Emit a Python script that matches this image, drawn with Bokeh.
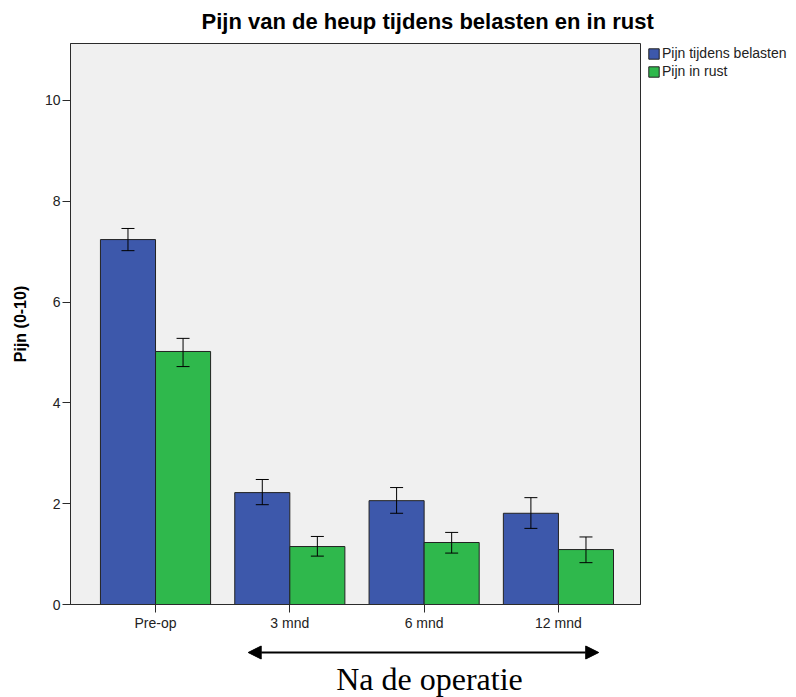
from bokeh.plotting import figure
from bokeh.layouts import column
from bokeh.models import (Range1d, FixedTicker, Whisker, ColumnDataSource, Legend,
                          LegendItem, Arrow, NormalHead, Label, TeeHead)
from bokeh.embed import file_html
from bokeh.resources import INLINE

# ---- data ----
categories = ["Pre-op", "3 mnd", "6 mnd", "12 mnd"]
belasten = [7.24, 2.22, 2.06, 1.81]
belasten_lo = [7.02, 1.98, 1.81, 1.51]
belasten_hi = [7.46, 2.48, 2.32, 2.12]
rust = [5.02, 1.15, 1.23, 1.09]
rust_lo = [4.72, 0.96, 1.02, 0.83]
rust_hi = [5.28, 1.35, 1.43, 1.34]
y_ticks = [0, 2, 4, 6, 8, 10]
series_labels = ["Pijn tijdens belasten", "Pijn in rust"]
title_text = "Pijn van de heup tijdens belasten en in rust"
y_label = "Pijn (0-10)"
note_text = "Na de operatie"

FONT = "Liberation Sans"
BLUE = "#3d58ab"
GREEN = "#2fb84c"

positions = list(range(len(categories)))
bar_w = 0.41
x_blue = [i - bar_w / 2 for i in positions]
x_green = [i + bar_w / 2 for i in positions]

src_b = ColumnDataSource(dict(x=x_blue, top=belasten, lo=belasten_lo, hi=belasten_hi))
src_g = ColumnDataSource(dict(x=x_green, top=rust, lo=rust_lo, hi=rust_hi))

LEFT, RIGHT = 70, 154
xr = Range1d(-0.633, 3.611)

p = figure(frame_width=570, frame_height=561, output_backend="svg", toolbar_location=None,
           x_range=xr, y_range=Range1d(0, 11.13),
           min_border_left=LEFT, min_border_right=RIGHT, min_border_top=43,
           min_border_bottom=30)
p.background_fill_color = "#f0f0f0"
p.border_fill_color = "white"
p.outline_line_color = "#2b2b2b"
p.outline_line_width = 1
p.grid.visible = False

r1 = p.vbar(x="x", top="top", width=bar_w, bottom=0, source=src_b,
            fill_color=BLUE, line_color="#222222", line_width=1)
r2 = p.vbar(x="x", top="top", width=bar_w, bottom=0, source=src_g,
            fill_color=GREEN, line_color="#222222", line_width=1)

for src in (src_b, src_g):
    w = Whisker(base="x", upper="hi", lower="lo", source=src,
                line_color="black", line_width=1, level="overlay",
                upper_head=TeeHead(size=13, line_color="black", line_width=1),
                lower_head=TeeHead(size=13, line_color="black", line_width=1))
    p.add_layout(w)

# axes
for ax in (p.xaxis, p.yaxis):
    ax.axis_line_color = "#2b2b2b"
    ax.major_tick_line_color = "#2b2b2b"
    ax.major_tick_out = 8
    ax.major_tick_in = 0
    ax.minor_tick_line_color = None
    ax.major_label_text_font = FONT
    ax.major_label_text_font_size = "14px"
    ax.major_label_text_color = "#222222"
    ax.major_label_standoff = 2

p.xaxis.ticker = FixedTicker(ticks=positions)
p.xaxis.major_label_overrides = {i: c for i, c in zip(positions, categories)}
p.yaxis.ticker = FixedTicker(ticks=y_ticks)
p.yaxis.axis_label = y_label
p.yaxis.axis_label_text_font = FONT
p.yaxis.axis_label_text_font_size = "16px"
p.yaxis.axis_label_text_font_style = "bold"
p.yaxis.axis_label_text_color = "black"
p.yaxis.axis_label_standoff = 13

# title
p.title.text = title_text
p.title.text_font = FONT
p.title.text_font_size = "22px"
p.title.text_font_style = "bold"
p.title.text_color = "black"
p.title.align = "left"
p.title.offset = 131
p.title.standoff = 16
p.title.vertical_align = "top"

# legend
legend = Legend(items=[LegendItem(label=series_labels[0], renderers=[r1]),
                       LegendItem(label=series_labels[1], renderers=[r2])],
                location=(7, 525), margin=0, padding=0, spacing=2,
                glyph_width=13, glyph_height=13, label_height=13,
                label_standoff=2, label_text_font=FONT,
                label_text_font_size="14px", label_text_color="#222222",
                border_line_color=None, background_fill_color=None)
p.add_layout(legend, "right")

# strip below the chart: arrow spanning the post-op categories + caption
p2 = figure(frame_width=570, frame_height=63, output_backend="svg", toolbar_location=None,
            x_range=xr, y_range=Range1d(0, 63),
            min_border_left=LEFT, min_border_right=RIGHT, min_border_top=0,
            min_border_bottom=0)
p2.axis.visible = False
p2.grid.visible = False
p2.outline_line_color = None
p2.background_fill_color = "white"
p2.border_fill_color = "white"

arrow_y = 45
p2.add_layout(Arrow(start=NormalHead(size=13, fill_color="black", line_color="black"),
                    end=NormalHead(size=13, fill_color="black", line_color="black"),
                    x_start=positions[1] - 0.31, y_start=arrow_y,
                    x_end=positions[3] + 0.30, y_end=arrow_y,
                    line_color="black", line_width=2))
p2.add_layout(Label(x=(positions[1] + positions[3]) / 2 + 0.04, y=19,
                    text=note_text, text_font="Liberation Serif",
                    text_font_size="32px", text_align="center",
                    text_baseline="middle", text_color="black"))

layout = column(p, p2, spacing=0)
open("out.html", "w").write(file_html(layout, INLINE))
